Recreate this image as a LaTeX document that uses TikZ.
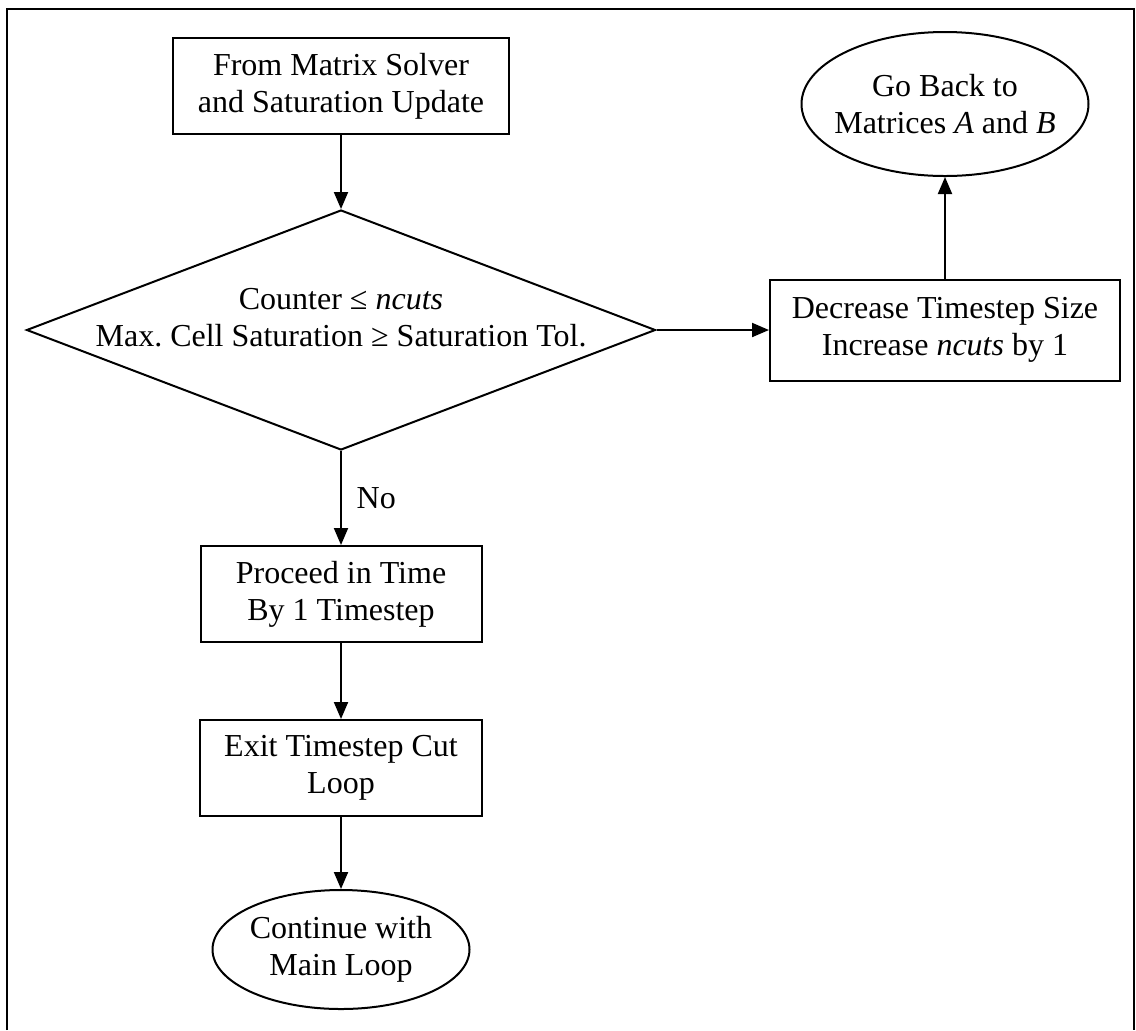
\documentclass[tikz,border=0pt]{standalone}
\usepackage{fontspec}
\setmainfont{Liberation Serif}
\usetikzlibrary{shapes.geometric,arrows.meta}
\begin{document}
\begin{tikzpicture}[x=0.5pt,y=-0.5pt,font=\fontsize{16}{18.4}\selectfont,>={Triangle[length=8.5pt,width=7pt]}]
% Set styles for Step, Ends and Test nodes
\tikzstyle{Step}=[draw,line width=1pt,rectangle,align=center,inner sep=2pt]
\tikzstyle{Ends}=[draw,line width=1pt,ellipse,align=center,inner xsep=-5pt,inner ysep=0pt]
\tikzstyle{Test}=[draw,line width=1pt,diamond,inner sep=0pt]
\useasboundingbox (0,0) rectangle (1136,1030);
% Frame, open at the bottom
\draw[line width=1pt] (7,1030) -- (7,9) -- (1134,9) -- (1134,1030);
% Nodes
\foreach [count=\i] \x/\y/\t/\n/\w/\h in {
    341/86/{From Matrix Solver\\and Saturation Update}/Step/168/48,
    341/330/{}/Test/314.5/120,
    945/330/{Decrease Timestep Size\\Increase \textit{ncuts} by 1}/Step/175/50.5,
    945/104/{Go Back to\\Matrices \textit{A} and \textit{B}}/Ends/143.5/72,
    341/594/{Proceed in Time\\By 1 Timestep}/Step/140.5/48,
    341/768/{Exit Timestep Cut\\Loop}/Step/141/48,
    341/949.5/{Continue with\\Main Loop}/Ends/128.5/59.5}
  \node[\n,minimum width=\w pt,minimum height=\h pt] at (\x,\y) (v\i) {\t};
\node[align=center] at (341,318) (v2text) {Counter ≤ \textit{ncuts}\\Max.\ Cell Saturation ≥ Saturation Tol.};
% Edges
\foreach \i/\j in {1/2, 2/3, 3/4, 5/6, 6/7}
  \draw[->,line width=1pt] (v\i) edge (v\j);
\draw[->,line width=1pt] (v2) -- node[right=4pt] (no) {No} (v5);
\end{tikzpicture}
\end{document}
